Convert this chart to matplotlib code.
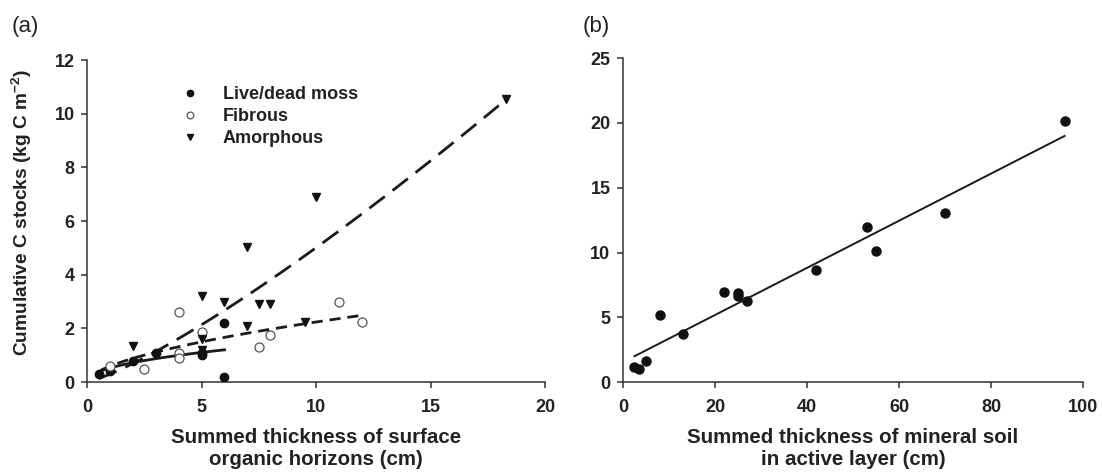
import numpy as np
import matplotlib
matplotlib.use("Agg")
import matplotlib.pyplot as plt

# ---------------- data ----------------
moss_x = [0.5, 1, 2, 3, 5, 5, 6, 6]
moss_y = [0.3, 0.4, 0.8, 1.1, 1.0, 1.1, 2.2, 0.2]
fib_x = [1, 2.5, 4, 4, 4, 5, 7.5, 8, 11, 12]
fib_y = [0.6, 0.5, 2.6, 1.1, 0.9, 1.85, 1.3, 1.75, 3.0, 2.25]
amor_x = [2, 5, 5, 5, 6, 7, 7, 7.5, 8, 9.5, 10, 18.3]
amor_y = [1.35, 3.2, 1.6, 1.2, 3.0, 5.05, 2.1, 2.9, 2.9, 2.25, 6.9, 10.55]

# power-law fits y = a * x^b, (a, b, xmin, xmax)
moss_fit = (0.524, 0.463, 0.5, 6.0)
fib_fit = (0.59, 0.579, 0.6, 12.0)
amor_fit = (0.295, 1.23, 0.5, 18.3)

min_x = [2.5, 3.5, 5, 8, 13, 22, 25, 25, 27, 42, 53, 55, 70, 96]
min_y = [1.2, 1.0, 1.65, 5.2, 3.7, 6.95, 6.85, 6.65, 6.3, 8.65, 12.0, 10.15, 13.05, 20.15]
# linear fit y = c0 + c1 x, (c0, c1, xmin, xmax)
min_fit = (1.55, 0.1817, 2.5, 96.0)

xticks_a = [0, 5, 10, 15, 20]
yticks_a = [0, 2, 4, 6, 8, 10, 12]
xticks_b = [0, 20, 40, 60, 80, 100]
yticks_b = [0, 5, 10, 15, 20, 25]

# ---------------- style ----------------
plt.rcParams['font.family'] = ['Liberation Sans', 'DejaVu Sans']
plt.rcParams['mathtext.fontset'] = 'custom'
plt.rcParams['mathtext.bf'] = 'Liberation Sans:bold'
plt.rcParams['mathtext.rm'] = 'Liberation Sans:bold'
plt.rcParams['mathtext.default'] = 'bf'
axcol = '#333333'
txtcol = '#222222'

fig = plt.figure(figsize=(11.02, 4.74), dpi=100)
axa = fig.add_axes([0.079, 0.194, 0.4156, 0.679])
axb = fig.add_axes([0.5653, 0.1936, 0.4175, 0.684])

def style(ax, xt, yt):
    for s in ['top', 'right']:
        ax.spines[s].set_visible(False)
    for s in ['left', 'bottom']:
        ax.spines[s].set_color(axcol)
        ax.spines[s].set_linewidth(1.1)
    ax.set_xticks(xt)
    ax.set_yticks(yt)
    ax.set_xlim(xt[0], xt[-1])
    ax.set_ylim(yt[0], yt[-1])
    ax.tick_params(direction='out', length=4, width=1.1, color=axcol,
                   labelsize=13, labelcolor=txtcol)
    ax.tick_params(axis='x', pad=8)
    ax.tick_params(axis='y', pad=5)
    for lab in ax.get_xticklabels() + ax.get_yticklabels():
        lab.set_fontweight('bold')

style(axa, xticks_a, yticks_a)
style(axb, xticks_b, yticks_b)

# ---------------- panel (a) ----------------
def powfit(p):
    a, b, x0, x1 = p
    xs = np.linspace(x0, x1, 100)
    return xs, a * xs ** b

xs, ys = powfit(amor_fit)
axa.plot(xs, ys, color='#1a1a1a', lw=2.0, dashes=(7, 3.5), zorder=2)
xs, ys = powfit(fib_fit)
axa.plot(xs, ys, color='#1a1a1a', lw=2.0, dashes=(4, 2.5), zorder=2)
xs, ys = powfit(moss_fit)
axa.plot(xs, ys, color='#1a1a1a', lw=2.0, zorder=2)

axa.plot(moss_x, moss_y, 'o', color='#111111', ms=6, ls='none',
         label='Live/dead moss', zorder=3, clip_on=False)
axa.plot(fib_x, fib_y, 'o', mfc='white', mec='#555555', mew=0.9, ms=6.5,
         ls='none', label='Fibrous', zorder=3, clip_on=False)
axa.plot(amor_x, amor_y, 'v', color='#111111', ms=6, ls='none',
         label='Amorphous', zorder=3, clip_on=False)

leg = axa.legend(loc='upper left', bbox_to_anchor=(0.19, 0.942), frameon=False,
                 prop={'weight': 'bold', 'size': 13}, handletextpad=1.3,
                 labelspacing=0.28, borderaxespad=0, handlelength=1.0,
                 markerscale=0.75)
for t in leg.get_texts():
    t.set_color(txtcol)

axa.set_xlabel('Summed thickness of surface\norganic horizons (cm)',
               fontweight='bold', fontsize=14.8, color=txtcol, labelpad=9,
               linespacing=1.2)
axa.set_ylabel(r'Cumulative C stocks (kg C m$^{-2}$)', fontweight='bold',
               fontsize=13.8, color=txtcol)
axa.yaxis.set_label_coords(-0.115, 0.528)

# ---------------- panel (b) ----------------
c0, c1, x0, x1 = min_fit
xl = np.array([x0, x1])
axb.plot(xl, c0 + c1 * xl, color='#1a1a1a', lw=1.4, zorder=2)
axb.plot(min_x, min_y, 'o', color='#111111', ms=6.5, ls='none', zorder=3)

axb.set_xlabel('Summed thickness of mineral soil\nin active layer (cm)',
               fontweight='bold', fontsize=14.8, color=txtcol, labelpad=9,
               linespacing=1.2)

fig.text(0.011, 0.945, '(a)', fontsize=16, color=txtcol, va='center')
fig.text(0.529, 0.945, '(b)', fontsize=16, color=txtcol, va='center')

fig.savefig('out.png', dpi=100)
